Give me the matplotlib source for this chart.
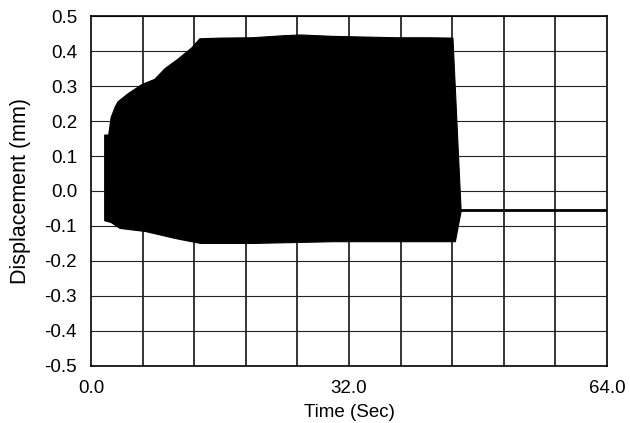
import matplotlib.pyplot as plt
import numpy as np

plt.rcParams['font.family'] = ['Liberation Sans', 'DejaVu Sans']
plt.rcParams['axes.unicode_minus'] = False

# Envelope of the oscillating displacement record
t_upper = [1.7, 2.2, 2.5, 3.0, 3.35, 4.6, 6.3, 7.9, 9.2, 10.8, 12.5, 13.5,
           16.0, 20.0, 24.0, 26.0, 30.0, 34.0, 38.0, 42.0, 44.9, 45.9]
d_upper = [0.16, 0.16, 0.21, 0.24, 0.255, 0.278, 0.304, 0.319, 0.35, 0.377,
           0.409, 0.435, 0.437, 0.438, 0.444, 0.446, 0.442, 0.44, 0.438,
           0.438, 0.437, -0.05]
t_lower = [1.7, 2.5, 3.6, 6.8, 10.5, 13.6, 20.0, 24.0, 30.0, 40.0, 45.2, 45.9]
d_lower = [-0.085, -0.09, -0.107, -0.116, -0.136, -0.15, -0.15, -0.148,
           -0.145, -0.145, -0.145, -0.06]

# Settled value after the shaking stops
t_tail = [45.8, 64.0]
d_tail = [-0.055, -0.055]

xtick_pos = [0.0, 32.0, 64.0]
xtick_labels = ['0.0', '32.0', '64.0']
ytick_pos = [-0.5, -0.4, -0.3, -0.2, -0.1, 0.0, 0.1, 0.2, 0.3, 0.4, 0.5]
ytick_labels = ['-0.5', '-0.4', '-0.3', '-0.2', '-0.1', '0.0',
                '0.1', '0.2', '0.3', '0.4', '0.5']

fig = plt.figure(figsize=(6.3, 4.23), dpi=100)
ax = fig.add_axes([0.1444, 0.135, 0.819, 0.827])

# grid lines every 6.4 s and 0.1 mm
for gx in np.arange(6.4, 64, 6.4):
    ax.axvline(gx, color='black', lw=1.1, zorder=1)
for gy in ytick_pos:
    ax.axhline(gy, color='#222222', lw=0.8, zorder=1)

xs = np.concatenate([t_upper, t_lower[::-1]])
ys = np.concatenate([d_upper, d_lower[::-1]])
ax.fill(xs, ys, color='black', lw=0.8, zorder=3)
ax.plot(t_tail, d_tail, color='black', lw=2, zorder=3)

ax.set_xlim(0, 64)
ax.set_ylim(-0.5, 0.5)
ax.set_xticks(xtick_pos)
ax.set_xticklabels(xtick_labels)
ax.set_yticks(ytick_pos)
ax.set_yticklabels(ytick_labels)
ax.tick_params(labelsize=13.5, length=0)
ax.tick_params(axis='y', pad=10)
ax.tick_params(axis='x', pad=10)
for s in ax.spines.values():
    s.set_linewidth(1.2)

ax.set_xlabel('Time (Sec)', fontsize=13.5, labelpad=5)
ax.set_ylabel('Displacement (mm)', fontsize=15.5, labelpad=10)

fig.savefig('out.png', dpi=100)
